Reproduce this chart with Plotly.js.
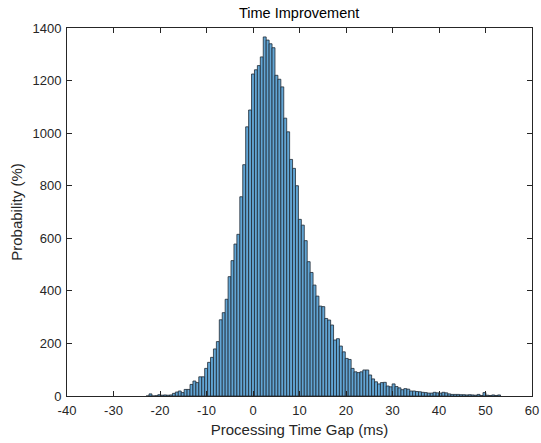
<!DOCTYPE html>
<html>
<head>
<meta charset="utf-8">
<script src="https://cdn.plot.ly/plotly-3.0.1.min.js"></script>
<style>html,body{margin:0;padding:0;background:#fff;}#chart{width:541px;height:443px;}</style>
</head>
<body>
<div id="chart"></div>
<script>
// Histogram of processing time gap (ms); counts per bin
const firstBinCenter = -22.68;   // ms
const binWidth = 0.63;           // ms
const counts = [
  0, 8, 0, 1, 5, 3, 4, 3, 4, 10,
  15, 19, 13, 25, 25, 44, 57, 51, 73, 73,
  105, 128, 147, 179, 207, 290, 317, 368, 454, 515,
  578, 615, 758, 880, 1024, 1088, 1225, 1241, 1257, 1290,
  1366, 1354, 1340, 1325, 1220, 1205, 1176, 1057, 1005, 900,
  866, 800, 672, 650, 591, 511, 470, 422, 380, 342,
  340, 295, 289, 270, 213, 218, 190, 168, 143, 139,
  105, 92, 89, 92, 99, 99, 80, 65, 54, 46,
  51, 52, 38, 35, 46, 36, 31, 24, 28, 26,
  19, 19, 17, 16, 14, 13, 11, 11, 14, 12,
  11, 14, 12, 8, 6, 6, 6, 5, 5, 4,
  5, 4, 3, 6, 2, 13, 3, 2, 4, 2, 4
];
const xTicks = [-40, -30, -20, -10, 0, 10, 20, 30, 40, 50, 60];
const yTicks = [0, 200, 400, 600, 800, 1000, 1200, 1400];
const titleText = 'Time Improvement';
const xTitle = 'Processing Time Gap (ms)';
const yTitle = 'Probability (%)';

const axisColor = '#262626';
const font = 'Liberation Sans, Arial, sans-serif';

const trace = {
  type: 'bar',
  x0: firstBinCenter,
  dx: binWidth,
  y: counts,
  marker: {color: '#62a5d4', line: {color: '#1f2a33', width: 0.8}},
  hoverinfo: 'x+y'
};

const layout = {
  width: 541, height: 443,
  margin: {l: 67, r: 9, t: 28, b: 47},
  paper_bgcolor: '#ffffff', plot_bgcolor: '#ffffff',
  bargap: 0,
  showlegend: false,
  font: {family: font, color: axisColor, size: 12},
  title: {text: titleText, x: 0.553, xanchor: 'center', y: 0.982, yanchor: 'top',
          font: {family: font, size: 14.5, color: '#000'}},
  xaxis: {
    range: [-40, 60], tickvals: xTicks, ticktext: xTicks.map(String),
    ticks: 'inside', ticklen: 5, tickcolor: axisColor, tickwidth: 1,
    showline: true, linecolor: axisColor, linewidth: 1, mirror: 'ticks',
    showgrid: false, zeroline: false, ticklabelstandoff: 2,
    tickfont: {family: font, size: 13, color: axisColor},
    title: {text: xTitle, font: {family: font, size: 15, color: axisColor}, standoff: 7}
  },
  yaxis: {
    range: [0, 1400], tickvals: yTicks, ticktext: yTicks.map(String),
    ticks: 'inside', ticklen: 5, tickcolor: axisColor, tickwidth: 1,
    showline: true, linecolor: axisColor, linewidth: 1, mirror: 'ticks',
    showgrid: false, zeroline: false, ticklabelstandoff: 2,
    tickfont: {family: font, size: 13, color: axisColor},
    title: {text: yTitle, font: {family: font, size: 15, color: axisColor}, standoff: 6}
  }
};

Plotly.newPlot('chart', [trace], layout, {staticPlot: true, displayModeBar: false});
</script>
</body>
</html>
